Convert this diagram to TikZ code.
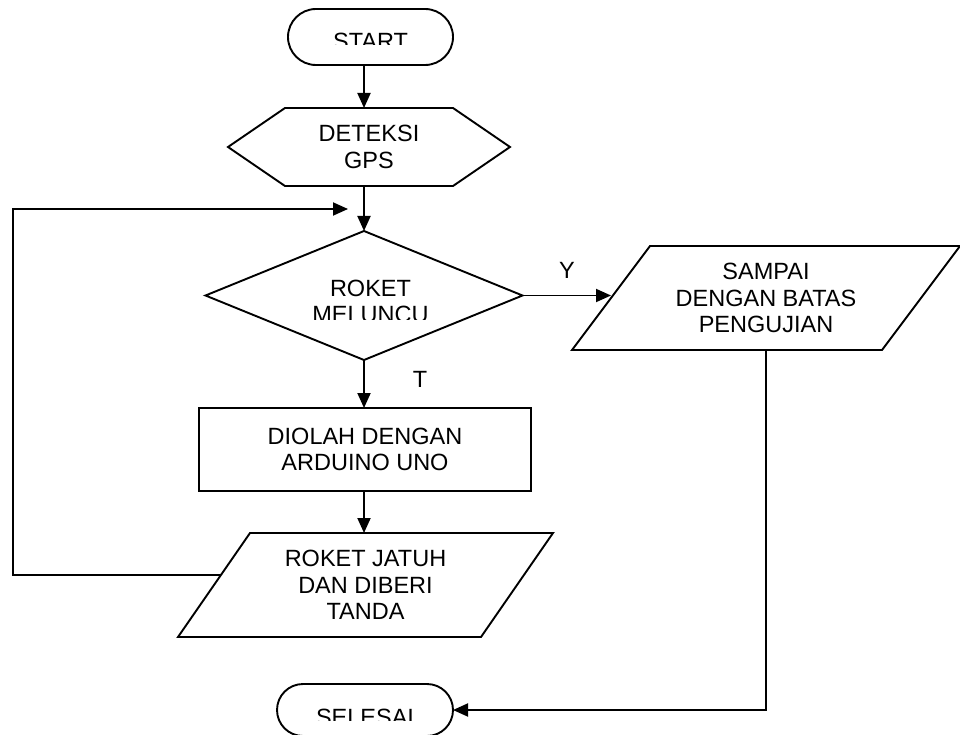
\documentclass[tikz,border=0pt]{standalone}
\usepackage{fontspec}
\setmainfont{Liberation Sans}
\usetikzlibrary{shapes.geometric,shapes.misc,arrows.meta,calc}
\begin{document}
\begin{tikzpicture}[x=1pt,y=-1pt,line width=1.9pt,
        every node/.style={font=\fontsize{23.5}{26.5}\selectfont, align=center, inner sep=0pt, outer sep=0pt},
        term/.style={rounded rectangle, draw, minimum width=165pt, minimum height=56pt},
        proc/.style={rectangle, draw, minimum width=332pt, minimum height=83pt},
        dec/.style={diamond, draw, minimum width=317pt, minimum height=129pt},
        iobox/.style={minimum height=104pt},
        arr/.style={-{Triangle[length=15pt,width=13pt]}}]
        \useasboundingbox (0,0) rectangle (960,735);

        \node[term] (start) at (370.5,37) {};
        \node[minimum width=282pt, minimum height=78pt] (gps) at (369,147) {DETEKSI\\GPS};
        \draw (gps.west) -- ([xshift=57pt]gps.north west) -- ([xshift=-57pt]gps.north east) -- (gps.east)
            -- ([xshift=-57pt]gps.south east) -- ([xshift=57pt]gps.south west) -- cycle;
        \node[dec] (luncur) at (364,295.5) {};
        \node[iobox, minimum width=388pt] (sampai) at (766,298) {SAMPAI\\DENGAN BATAS\\PENGUJIAN};
        \draw ([xshift=78pt]sampai.north west) -- (sampai.north east) -- ([xshift=-78pt]sampai.south east)
            -- (sampai.south west) -- cycle;
        \node[proc] (olah) at (365,449.5) {DIOLAH DENGAN\\ARDUINO UNO};
        \node[iobox, minimum width=375pt] (jatuh) at (365.5,585) {ROKET JATUH\\DAN DIBERI\\TANDA};
        \draw ([xshift=72pt]jatuh.north west) -- (jatuh.north east) -- ([xshift=-72pt]jatuh.south east)
            -- (jatuh.south west) -- cycle;
        \node[term, minimum width=176pt, minimum height=52pt] (selesai) at (365,710) {};

        \node (ya) at (567,270) {Y};
        \node (tidak) at (420,379.5) {T};

        % texts cut off as in the original
        \begin{scope}
            \clip (280,0) rectangle (460,45);
            \node[anchor=base] (starttxt) at (370.5,50) {START};
        \end{scope}
        \begin{scope}
            \clip (210,232) rectangle (520,319);
            \node[anchor=base] (luncurtxt) at (370.5,296) {ROKET};
            \node[anchor=base] (luncurtxtb) at (370.5,322) {MELUNCU};
        \end{scope}
        \begin{scope}
            \clip (280,690) rectangle (450,720);
            \node[anchor=base] (selesaitxt) at (365,725) {SELESAI};
        \end{scope}

        \coordinate (kiri) at (13,209);
        \coordinate (balik) at (348,209);
        \coordinate (sampaikiri) at ($(sampai.south west)!0.5!([xshift=78pt]sampai.north west)$);
        \coordinate (jatuhkiri) at ($(jatuh.south west)!0.6!([xshift=72pt]jatuh.north west)$);

        \draw[arr] (start.south -| luncur.north) -- (gps.north -| luncur.north);
        \draw[arr] (gps.south -| luncur.north) -- (luncur.north);
        \draw[arr] (luncur.east) -- (luncur.east -| sampaikiri);
        \draw[arr] (luncur.south) -- (luncur.south |- olah.north);
        \draw[arr] (olah.south -| luncur.south) -- (luncur.south |- jatuh.north);
        \draw[arr] (jatuhkiri) -| (kiri) -- (balik);
        \draw[arr] (sampai.south) |- (selesai.east);

    \end{tikzpicture}
\end{document}
